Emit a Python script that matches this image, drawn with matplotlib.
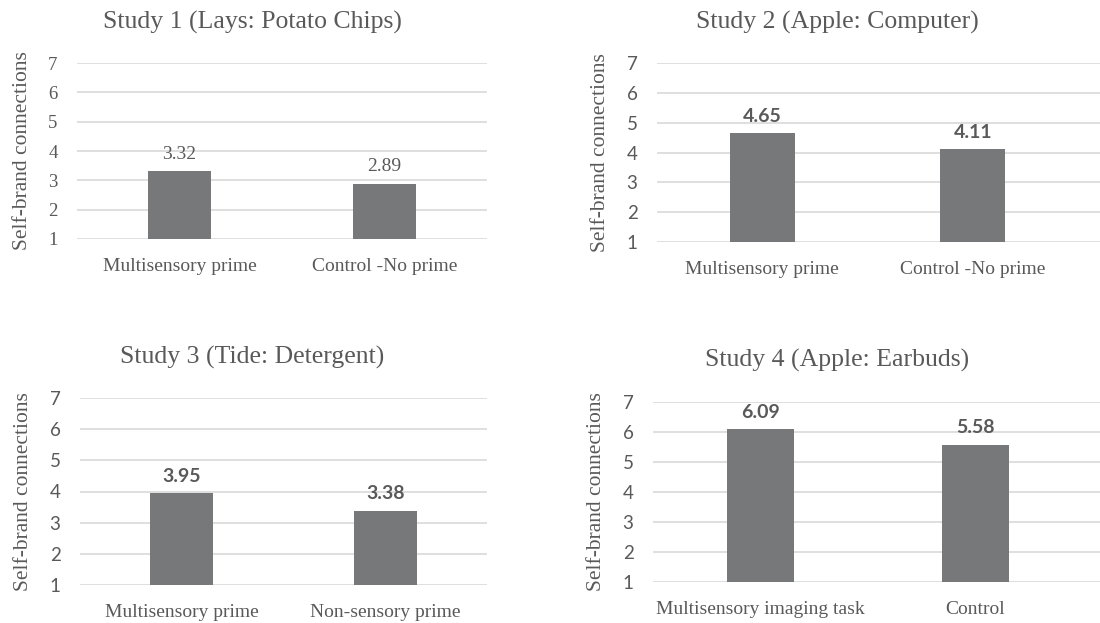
import matplotlib.pyplot as plt

# study means, self-brand connections (1-7 scale)
titles = ["Study 1 (Lays: Potato Chips)", "Study 2 (Apple: Computer)",
          "Study 3 (Tide: Detergent)", "Study 4 (Apple: Earbuds)"]
categories = [["Multisensory prime", "Control -No prime"],
              ["Multisensory prime", "Control -No prime"],
              ["Multisensory prime", "Non-sensory prime"],
              ["Multisensory imaging task", "Control"]]
means = [[3.32, 2.89],
         [4.65, 4.11],
         [3.95, 3.38],
         [6.09, 5.58]]
yticks = [1, 2, 3, 4, 5, 6, 7]

W, H = 1100, 623
# axes boxes in pixels: left, right, top (y=7), bottom (y=1), xlim right
boxes = [(77, 487, 63, 239, 1.50),
         (657, 1100, 63, 242, 1.605),
         (80, 487, 398, 585, 1.50),
         (653, 1100, 402, 582, 1.58)]
title_y = [22, 22, 357, 360]
title_x = [252, 837, 252, 837]

serif = "Liberation Serif"
sans = "Lato"
txt = "#595959"
bar_col = "#77787a"
grid_col = "#d9d9d9"

fig = plt.figure(figsize=(W / 100, H / 100), dpi=100)

for i in range(4):
    l, r, t, b, xr = boxes[i]
    ax = fig.add_axes([l / W, 1 - b / H, (r - l) / W, (b - t) / H])
    # bar heights measured from the axis floor at 1
    ax.bar([0, 1], [m - 1 for m in means[i]], width=0.31, bottom=1,
           color=bar_col, zorder=3)
    ax.set_xlim(-0.5, xr)
    ax.set_ylim(1, 7)
    ax.set_yticks(yticks)
    ax.yaxis.grid(True, color=grid_col, linewidth=1.2, zorder=0)
    for s in ax.spines.values():
        s.set_visible(False)
    ax.tick_params(length=0)
    ax.set_xticks([0, 1])
    ax.set_xticklabels(categories[i], family=serif, fontsize=14, color=txt)
    ax.tick_params(axis="x", pad=14)
    tick_font = serif if i == 0 else sans
    ax.set_yticklabels([str(v) for v in yticks], family=tick_font,
                       fontsize=13.5, color=txt)
    ax.tick_params(axis="y", pad=14)
    ax.set_ylabel("Self-brand connections", family=serif, fontsize=15.5,
                  color=txt, labelpad=12)
    lab_font = serif if i == 0 else sans
    for x, m in enumerate(means[i]):
        ax.annotate(f"{m:.2f}", (x, m), xytext=(0, 6), textcoords="offset points",
                    ha="center", va="bottom", family=lab_font, fontsize=14,
                    color=txt, fontweight="bold" if i else "normal")
    fig.text(title_x[i] / W, 1 - title_y[i] / H, titles[i], family=serif,
             fontsize=18.5, color=txt, ha="center", va="center")

fig.savefig("out.png", dpi=100)
